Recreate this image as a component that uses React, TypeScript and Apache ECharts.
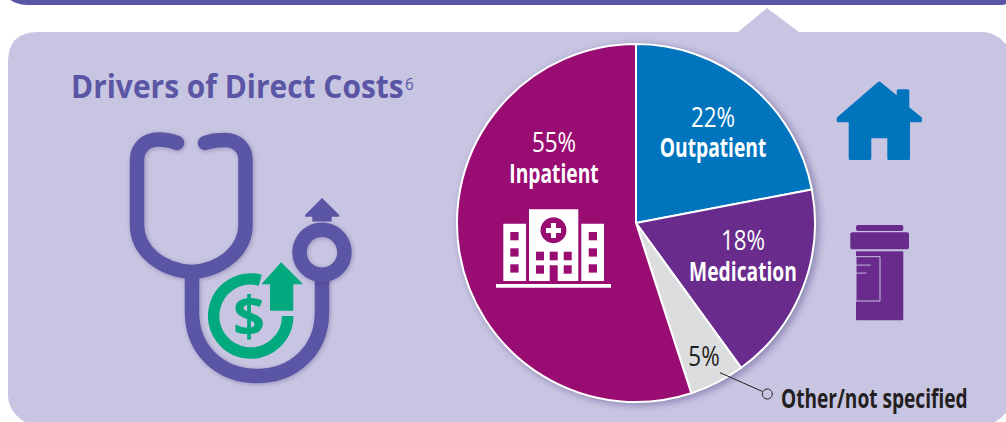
import React, { useEffect, useRef } from "react";
import * as echarts from "echarts";

const categories = ["Outpatient", "Medication", "Other/not specified", "Inpatient"];
const shares = [22, 18, 5, 55];
const sliceColors = ["#0075BE", "#692B8C", "#DCDDDE", "#990D72"];
const titleText = "Drivers of Direct Costs";
const titleNote = "6";
const calloutText = "Other/not specified";

const PANEL = "#C8C5E2";
const VIOLET = "#5A55A4";
const GREEN = "#00A97E";
const FONT = "'Open Sans', sans-serif";
const CX = 636, CY = 223, R = 179;

// label anchor [x, percent y, name y] per category
const labelSpots: Record<string, [number, number, number]> = {
  Outpatient: [713, 116, 147],
  Medication: [743, 239, 271],
  Inpatient: [554, 141, 173],
};

echarts.graphic.registerShape("panelShape", echarts.graphic.extendPath(
  "M8 62 Q8 32 38 32 L738 32 L767 8 L799 32 L982 32 C998 32 1012 46 1012 62 L1012 395 C1012 411 998 425 982 425 L38 425 C22 425 8 411 8 395 Z", {}));
echarts.graphic.registerShape("tube", echarts.graphic.extendPath(
  "M177 143 C170 140 165 139.5 158 139.5 C146 139.5 137 148 137 160 L137 225 C137 250 160 270 192 272 C222 270 245.5 250 245.5 225 L245.5 160 C245.5 148 237 140 225 140 C218 140 212 140.5 205 143 M192 272 L192 312 C192 350 220 376 257 376 C294 376 322 350 322 312 L322 277", {}));
echarts.graphic.registerShape("house", echarts.graphic.extendPath(
  "M879.3 83 L898.2 98.5 L898.2 90.8 L907.8 90.8 L907.8 108 L920.5 118.5 L920.5 120.8 L908.5 120.8 L908.5 158.5 L888.8 158.5 L888.8 136.8 L869.8 136.8 L869.8 158.5 L850.2 158.5 L850.2 120.8 L838.2 120.8 L838.2 118.5 Z", {}));

function App() {
  const ref = useRef<HTMLDivElement>(null);
  useEffect(() => {
    document.body.style.margin = "0";
    const chart = echarts.init(ref.current!, undefined, { renderer: "svg" });
    const soft = { shadowBlur: 4, shadowColor: "rgba(40,30,90,0.3)", shadowOffsetX: 1, shadowOffsetY: 1 };
    const rect = (x: number, y: number, w: number, h: number, fill: string, r: any = 0, z = 5, extra = {}) => ({
      type: "rect", z, shape: { x, y, width: w, height: h, r }, style: { fill, ...extra },
    });
    const poly = (points: number[][], fill: string, z = 5, extra = {}) => ({
      type: "polygon", z, shape: { points }, style: { fill, ...extra },
    });
    const label = (text: string, x: number, y: number, font: string, fill: string, scaleX: number) => ({
      type: "text", z: 6, x, y, scaleX,
      style: { text, font, fill, align: "center", verticalAlign: "middle" },
    });
    const hospital: any[] = [
      rect(503.3, 223.7, 22.7, 57.3, "#fff"),
      rect(529, 209.3, 49.3, 71.7, "#fff"),
      rect(581.3, 223.7, 22.7, 57.3, "#fff"),
      rect(496, 284, 115, 3.7, "#fff"),
      { type: "circle", z: 6, shape: { cx: 553.5, cy: 230.3, r: 13 }, style: { fill: "#990D72" } },
      rect(546, 228, 15, 5, "#fff", 0, 7),
      rect(551, 223, 5, 15, "#fff", 0, 7),
    ];
    [510.3, 588.7].forEach((x) => [232, 248.3, 264.3].forEach((y) => hospital.push(rect(x, y, 8.3, 8.3, "#990D72", 0, 6))));
    [536, 549.7, 563.7].forEach((x) => hospital.push(rect(x, 251.7, 8, 8.6, "#990D72", 0, 6)));
    [536, 563.7].forEach((x) => hospital.push(rect(x, 265.3, 8, 8.4, "#990D72", 0, 6)));
    hospital.push(rect(549.7, 265.3, 8, 15.7, "#990D72", 0, 6));

    const sliceLabels: any[] = [];
    categories.forEach((name, i) => {
      const spot = labelSpots[name];
      if (spot) {
        sliceLabels.push(label(`${shares[i]}%`, spot[0], spot[1], `28px ${FONT}`, "#fff", 0.8));
        sliceLabels.push(label(name, spot[0], spot[2], `bold 26px ${FONT}`, "#fff", 0.74));
      } else {
        sliceLabels.push(label(`${shares[i]}%`, 704, 355, `28px ${FONT}`, "#231F20", 0.8));
      }
    });

    chart.setOption({
      animation: false,
      backgroundColor: "#fff",
      graphic: [
        rect(-3, -40, 1013, 45, VIOLET, [0, 0, 8, 30], 0),
        { type: "panelShape", z: 0, style: { fill: PANEL } },
        { type: "circle", z: 1, shape: { cx: CX, cy: CY, r: R }, style: { fill: "#fff", shadowBlur: 8, shadowColor: "rgba(40,30,90,0.45)", shadowOffsetX: 3, shadowOffsetY: 2 } },
        { type: "text", z: 5, x: 71, y: 86, scaleX: 0.95, style: { text: titleText, font: `bold 31.5px ${FONT}`, fill: VIOLET, verticalAlign: "middle" } },
        { type: "text", z: 5, x: 405, y: 84, scaleX: 0.9, style: { text: titleNote, font: `17px ${FONT}`, fill: VIOLET, verticalAlign: "middle" } },
        // stethoscope
        { type: "tube", z: 4, style: { fill: "none", stroke: VIOLET, lineWidth: 14.5, lineCap: "round", ...soft } },
        { type: "ring", z: 4, shape: { cx: 322, cy: 252.3, r: 29.7, r0: 15.3 }, style: { fill: VIOLET, ...soft } },
        poly([[322, 198], [305, 215], [305, 216.7], [312.3, 216.7], [312.3, 221.5], [331.7, 221.5], [331.7, 216.7], [339.3, 216.7], [339.3, 215]], VIOLET),
        { type: "arc", z: 5, shape: { cx: 250.7, cy: 316, r: 37, startAngle: 0, endAngle: 4.974, clockwise: true }, style: { fill: "none", stroke: GREEN, lineWidth: 11.4, lineCap: "butt" } },
        poly([[281.2, 262.8], [262.2, 283.8], [270.5, 283.8], [270.5, 310.2], [292.8, 310.2], [292.8, 283.8], [302.2, 283.8]], GREEN, 6, { stroke: GREEN, lineWidth: 1, lineJoin: "round" }),
        { type: "text", z: 6, x: 249, y: 314, style: { text: "$", font: `bold 56px ${FONT}`, fill: GREEN, align: "center", verticalAlign: "middle" } },
        // house
        { type: "house", z: 5, style: { fill: "#0075BE", stroke: "#0075BE", lineWidth: 3, lineJoin: "round" } },
        // bottle
        rect(856, 225, 47.3, 6, "#692B8C", 2),
        rect(850.3, 232.3, 58.7, 17, "#692B8C", 2),
        rect(856, 251.3, 47.3, 69, "#692B8C", 1),
        rect(856, 256.7, 24, 44.3, "none", 0, 6, { stroke: PANEL, lineWidth: 1 }),
        rect(856, 264.6, 14.7, 0.9, PANEL, 0, 6),
        rect(856, 272.6, 10.7, 0.9, PANEL, 0, 6),
        // callout
        { type: "line", z: 6, shape: { x1: 720, y1: 372.7, x2: 762.5, y2: 391.5 }, style: { stroke: "#231F20", lineWidth: 1 } },
        { type: "circle", z: 6, shape: { cx: 767.3, cy: 394, r: 5 }, style: { fill: PANEL, stroke: "#231F20", lineWidth: 1 } },
        { type: "text", z: 6, x: 781, y: 398, scaleX: 0.735, style: { text: calloutText, font: `bold 26px ${FONT}`, fill: "#231F20", verticalAlign: "middle" } },
        ...hospital,
        ...sliceLabels,
      ],
      series: [{
        type: "pie",
        z: 2,
        center: [CX, CY],
        radius: [0, R],
        startAngle: 90,
        clockwise: true,
        silent: true,
        itemStyle: { borderColor: "#fff", borderWidth: 2 },
        data: categories.map((name, i) => ({ name, value: shares[i], itemStyle: { color: sliceColors[i] } })),
        label: { show: false },
        labelLine: { show: false },
      }],
    });
    return () => chart.dispose();
  }, []);
  return <div ref={ref} style={{ width: 1006, height: 422, overflow: "hidden" }} />;
}

export default App;
